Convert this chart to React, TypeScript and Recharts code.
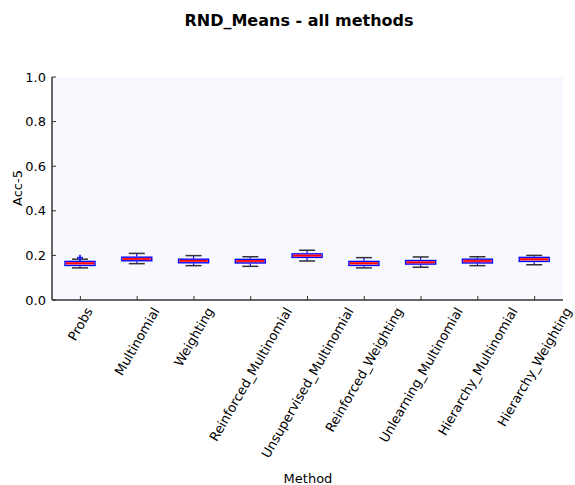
import React from 'react';
import { ComposedChart, Bar, XAxis, YAxis, CartesianGrid } from 'recharts';

const methods = [
  'Probs',
  'Multinomial',
  'Weighting',
  'Reinforced_Multinomial',
  'Unsupervised_Multinomial',
  'Reinforced_Weighting',
  'Unlearning_Multinomial',
  'Hierarchy_Multinomial',
  'Hierarchy_Weighting',
];
const whiskerLow = [0.144, 0.163, 0.154, 0.151, 0.175, 0.144, 0.147, 0.154, 0.158];
const q1 = [0.155, 0.176, 0.167, 0.166, 0.191, 0.155, 0.161, 0.166, 0.173];
const medians = [0.165, 0.184, 0.176, 0.175, 0.199, 0.165, 0.169, 0.175, 0.183];
const q3 = [0.173, 0.192, 0.183, 0.182, 0.207, 0.173, 0.177, 0.183, 0.191];
const whiskerHigh = [0.183, 0.209, 0.199, 0.194, 0.223, 0.19, 0.193, 0.194, 0.2];
const outliers: (number | null)[] = [0.19, null, null, null, null, null, null, null, null];
const yTicks = [0, 0.2, 0.4, 0.6, 0.8, 1.0];

const data = methods.map((m, i) => ({
  method: m,
  lo: whiskerLow[i],
  q1: q1[i],
  med: medians[i],
  q3: q3[i],
  hi: whiskerHigh[i],
  out: outliers[i],
}));

const FONT = 'DejaVu Sans, sans-serif';
const TICK_FS = 13;

let ctx: CanvasRenderingContext2D | null = null;
const measure = (s: string, size: number) => {
  if (!ctx) ctx = document.createElement('canvas').getContext('2d');
  if (!ctx) return s.length * size * 0.6;
  ctx.font = `${size}px "DejaVu Sans"`;
  return ctx.measureText(s).width;
};

const BoxShape = (props: any) => {
  const { x, y, width, height, payload } = props;
  const top = payload.out != null ? Math.max(payload.hi, payload.out) : payload.hi;
  const span = top - payload.lo;
  if (!span || !isFinite(height)) return null;
  const ppu = height / span;
  const py = (v: number) => y + (top - v) * ppu;
  const cx = x + width / 2;
  const capW = 8;
  return (
    <g>
      <line x1={cx} x2={cx} y1={py(payload.hi)} y2={py(payload.q3)} stroke="#0000ff" strokeWidth={1.2} />
      <line x1={cx} x2={cx} y1={py(payload.q1)} y2={py(payload.lo)} stroke="#0000ff" strokeWidth={1.2} />
      <line x1={cx - capW} x2={cx + capW} y1={py(payload.hi)} y2={py(payload.hi)} stroke="#333" strokeWidth={1.5} />
      <line x1={cx - capW} x2={cx + capW} y1={py(payload.lo)} y2={py(payload.lo)} stroke="#333" strokeWidth={1.5} />
      <rect
        x={x - 1}
        y={py(payload.q3) - 1}
        width={width + 2}
        height={py(payload.q1) - py(payload.q3) + 2}
        fill="#a8a8ff"
        opacity={0.7}
      />
      <rect
        x={x}
        y={py(payload.q3)}
        width={width}
        height={py(payload.q1) - py(payload.q3)}
        fill="#ff8080"
        stroke="#0000ff"
        strokeWidth={1.2}
      />
      <line x1={x + 1} x2={x + width - 1} y1={py(payload.med)} y2={py(payload.med)} stroke="#ff0000" strokeWidth={1.6} />
      {payload.out != null && (
        <g stroke="#0000ff" strokeWidth={1.5}>
          <line x1={cx - 3} x2={cx + 3} y1={py(payload.out)} y2={py(payload.out)} />
          <line x1={cx} x2={cx} y1={py(payload.out) - 3} y2={py(payload.out) + 3} />
        </g>
      )}
    </g>
  );
};

const BottomTick = (props: any) => {
  const { x, y, payload } = props;
  const label = String(payload.value);
  const w = measure(label, TICK_FS);
  const h = w * Math.sin(Math.PI / 3) + TICK_FS * 1.1 * Math.cos(Math.PI / 3);
  const cy = y + 5 + h / 2;
  return (
    <g>
      <line x1={x} x2={x} y1={y} y2={y - 4} stroke="#333" />
      <text
        x={x}
        y={cy}
        textAnchor="middle"
        dominantBaseline="central"
        transform={`rotate(-60 ${x} ${cy})`}
        fontSize={TICK_FS}
        fontFamily={FONT}
        fill="#000"
      >
        {label}
      </text>
    </g>
  );
};

const TopTick = (props: any) => {
  const { x, y } = props;
  return <line x1={x} x2={x} y1={y} y2={y + 4} stroke="#555" />;
};

const LeftTick = (props: any) => {
  const { x, y, payload } = props;
  return (
    <g>
      <line x1={x} x2={x + 4} y1={y} y2={y} stroke="#333" />
      <text x={x - 6} y={y} textAnchor="end" dominantBaseline="central" fontSize={TICK_FS} fontFamily={FONT} fill="#000">
        {Number(payload.value).toFixed(1)}
      </text>
    </g>
  );
};

const RightTick = (props: any) => {
  const { x, y } = props;
  return <line x1={x} x2={x - 4} y1={y} y2={y} stroke="#000" />;
};

export default function App() {
  return (
    <div style={{ position: 'absolute', left: 0, top: 0, width: 575, height: 485, background: '#fff' }}>
      <ComposedChart
        width={575}
        height={485}
        data={data}
        margin={{ top: 77, right: 12, bottom: 0, left: 0 }}
      >
        <CartesianGrid horizontal={false} vertical={false} fill="#f8f8ff" />
        <XAxis
          dataKey="method"
          type="category"
          height={185}
          interval={0}
          tickSize={0}
          tickMargin={0}
          tickLine={false}
          axisLine={{ stroke: '#333', strokeWidth: 1.5 }}
          tick={<BottomTick />}
        />
        <XAxis
          xAxisId="top"
          dataKey="method"
          type="category"
          orientation="top"
          height={0}
          interval={0}
          tickSize={0}
          tickMargin={0}
          tickLine={false}
          axisLine={{ stroke: '#555', strokeWidth: 1.5 }}
          tick={<TopTick />}
        />
        <YAxis
          type="number"
          domain={[0, 1]}
          ticks={yTicks}
          width={52}
          tickSize={0}
          tickMargin={0}
          tickLine={false}
          axisLine={{ stroke: '#333', strokeWidth: 1.5 }}
          tick={<LeftTick />}
        />
        <YAxis
          yAxisId="right"
          orientation="right"
          type="number"
          domain={[0, 1]}
          ticks={yTicks}
          width={0}
          tickSize={0}
          tickMargin={0}
          tickLine={false}
          axisLine={{ stroke: '#000', strokeWidth: 1.5 }}
          tick={<RightTick />}
        />
        <Bar
          dataKey={(d: any) => [d.lo, d.out != null ? Math.max(d.hi, d.out) : d.hi]}
          barSize={30}
          shape={<BoxShape />}
          isAnimationActive={false}
        />
      </ComposedChart>
      <svg width={575} height={485} style={{ position: 'absolute', left: 0, top: 0, pointerEvents: 'none' }}>
        <text x={299} y={20} textAnchor="middle" dominantBaseline="central" fontSize={16} fontWeight="bold" fontFamily={FONT}>
          RND_Means - all methods
        </text>
        <text
          x={17}
          y={188}
          textAnchor="middle"
          dominantBaseline="central"
          transform="rotate(-90 17 188)"
          fontSize={TICK_FS}
          fontFamily={FONT}
        >
          Acc-5
        </text>
        <text x={308} y={478} textAnchor="middle" dominantBaseline="central" fontSize={TICK_FS} fontFamily={FONT}>
          Method
        </text>
      </svg>
    </div>
  );
}
